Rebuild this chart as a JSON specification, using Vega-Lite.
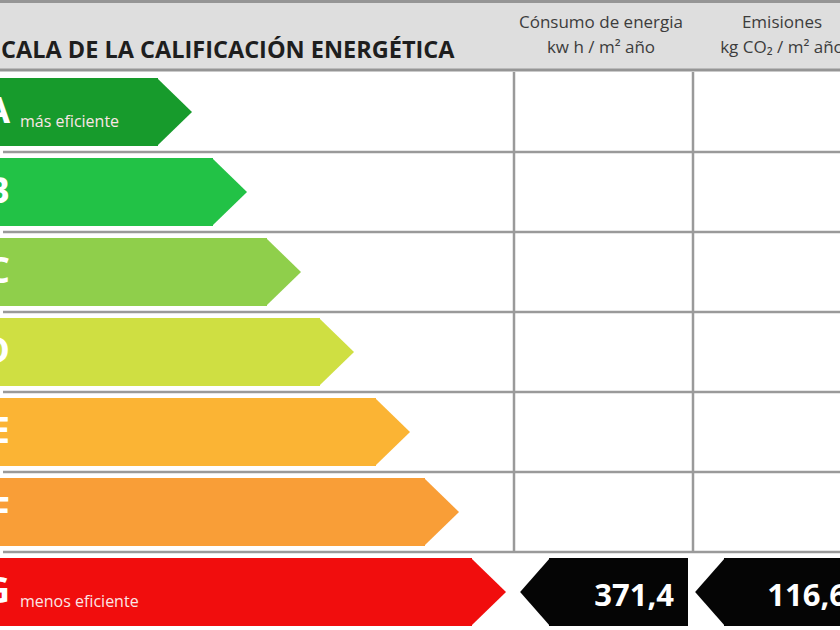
{
  "$schema": "https://vega.github.io/schema/vega-lite/v6.json",
  "description": "Escala de la calificación energética (A-G) con consumo y emisiones",
  "padding": 0,
  "autosize": {"type": "pad"},
  "spacing": 0,
  "background": "white",
  "config": {
    "view": {"stroke": null},
    "font": "Open Sans",
    "concat": {"spacing": 0}
  },
  "datasets": {
    "grades": [
      {"grade": "A", "length": 158, "note": "más eficiente"},
      {"grade": "B", "length": 213, "note": ""},
      {"grade": "C", "length": 267, "note": ""},
      {"grade": "D", "length": 320, "note": ""},
      {"grade": "E", "length": 376, "note": ""},
      {"grade": "F", "length": 425, "note": ""},
      {"grade": "G", "length": 472, "note": "menos eficiente"}
    ],
    "results": [
      {"measure": "Consumo de energía", "value": "371,4", "start": 549, "end": 688, "label_end": 674},
      {"measure": "Emisiones", "value": "116,6", "start": 724, "end": 860, "label_end": 847}
    ],
    "header": [
      {"text": "Cónsumo de energia", "x": 601, "y": 28},
      {"text": "kw h / m² año", "x": 601, "y": 53},
      {"text": "Emisiones", "x": 782, "y": 28},
      {"text": "kg CO₂ / m² año", "x": 782, "y": 53}
    ],
    "bands": [
      {"edge": "top", "from": 0, "to": 3},
      {"edge": "bottom", "from": 68.5, "to": 71.5}
    ]
  },
  "vconcat": [
    {
      "width": 840,
      "height": 70,
      "view": {"fill": "#dedede", "stroke": null},
      "layer": [
        {
          "data": {"name": "bands"},
          "mark": {"type": "bar", "color": "#959595"},
          "encoding": {
            "x": {"datum": 0, "type": "quantitative", "scale": {"domain": [0, 840], "nice": false, "zero": false}, "axis": null},
            "x2": {"datum": 840},
            "y": {"field": "from", "type": "quantitative", "scale": {"domain": [0, 70], "nice": false, "zero": false, "reverse": true}, "axis": null},
            "y2": {"field": "to"}
          }
        },
        {
          "data": {"values": [{"title": "CALA DE LA CALIFICACIÓN ENERGÉTICA"}]},
          "mark": {"type": "text", "align": "left", "baseline": "alphabetic", "fontSize": 23.5, "fontWeight": "bold", "color": "#1e1e1e", "clip": true},
          "encoding": {
            "x": {"datum": 1, "type": "quantitative"},
            "y": {"datum": 58, "type": "quantitative"},
            "text": {"field": "title"}
          }
        },
        {
          "data": {"name": "header"},
          "mark": {"type": "text", "align": "center", "baseline": "alphabetic", "fontSize": 17, "color": "#3c3c3c", "clip": true},
          "encoding": {
            "x": {"field": "x", "type": "quantitative"},
            "y": {"field": "y", "type": "quantitative"},
            "text": {"field": "text"}
          }
        }
      ]
    },
    {
      "width": 840,
      "height": 560,
      "data": {"name": "grades"},
      "encoding": {
        "y": {
          "field": "grade", "type": "nominal", "axis": null,
          "scale": {"domain": ["A", "B", "C", "D", "E", "F", "G"], "paddingInner": 0.15, "paddingOuter": 0.075}
        }
      },
      "layer": [
        {
          "mark": {"type": "rule", "color": "#9a9a9a", "strokeWidth": 2.5, "yOffset": 6},
          "encoding": {
            "y": {"field": "grade", "type": "nominal", "bandPosition": 1},
            "x": {"datum": 3, "type": "quantitative", "scale": {"domain": [0, 840], "nice": false, "zero": false}, "axis": null},
            "x2": {"datum": 840}
          }
        },
        {
          "transform": [{"filter": "datum.grade != 'G'"}],
          "mark": {"type": "tick", "color": "#9a9a9a", "thickness": 2.5, "size": 80, "opacity": 1},
          "encoding": {"x": {"datum": 514, "type": "quantitative"}}
        },
        {
          "transform": [{"filter": "datum.grade != 'G'"}],
          "mark": {"type": "tick", "color": "#9a9a9a", "thickness": 2.5, "size": 80, "opacity": 1},
          "encoding": {"x": {"datum": 693, "type": "quantitative"}}
        },
        {
          "mark": {"type": "bar", "clip": true},
          "encoding": {
            "x": {"field": "length", "type": "quantitative"},
            "color": {
              "field": "grade", "type": "nominal", "legend": null,
              "scale": {"domain": ["A", "B", "C", "D", "E", "F", "G"], "range": ["#179b2c", "#22c246", "#8fcf4b", "#cfdf42", "#fbb434", "#f99e37", "#f10d0d"]}
            }
          }
        },
        {
          "mark": {"type": "point", "shape": "M-0.03,-1L1,0L-0.03,1Z", "size": 4624, "filled": true, "opacity": 1, "strokeWidth": 0},
          "encoding": {
            "x": {"field": "length", "type": "quantitative"},
            "color": {"field": "grade", "type": "nominal", "legend": null}
          }
        },
        {
          "mark": {"type": "text", "align": "right", "baseline": "middle", "fontSize": 36, "fontWeight": "bold", "color": "white", "clip": true},
          "encoding": {
            "x": {"datum": 10, "type": "quantitative"},
            "text": {"field": "grade"}
          }
        },
        {
          "mark": {"type": "text", "align": "left", "baseline": "alphabetic", "dy": 15, "fontSize": 16, "color": "#fbe6e6"},
          "encoding": {
            "x": {"datum": 20, "type": "quantitative"},
            "text": {"field": "note"}
          }
        },
        {
          "data": {"name": "results"},
          "mark": {"type": "bar", "color": "#050505", "clip": true},
          "encoding": {
            "x": {"field": "start", "type": "quantitative"},
            "x2": {"field": "end"},
            "y": {"datum": "G"}
          }
        },
        {
          "data": {"name": "results"},
          "mark": {"type": "point", "shape": "M0.03,-1L-0.85,0L0.03,1Z", "size": 4624, "filled": true, "opacity": 1, "strokeWidth": 0, "color": "#050505"},
          "encoding": {
            "x": {"field": "start", "type": "quantitative"},
            "y": {"datum": "G"}
          }
        },
        {
          "data": {"name": "results"},
          "mark": {"type": "text", "align": "right", "baseline": "alphabetic", "dy": 14, "fontSize": 31, "fontWeight": "bold", "color": "white", "clip": true},
          "encoding": {
            "x": {"field": "label_end", "type": "quantitative"},
            "y": {"datum": "G"},
            "text": {"field": "value"}
          }
        }
      ]
    }
  ]
}
